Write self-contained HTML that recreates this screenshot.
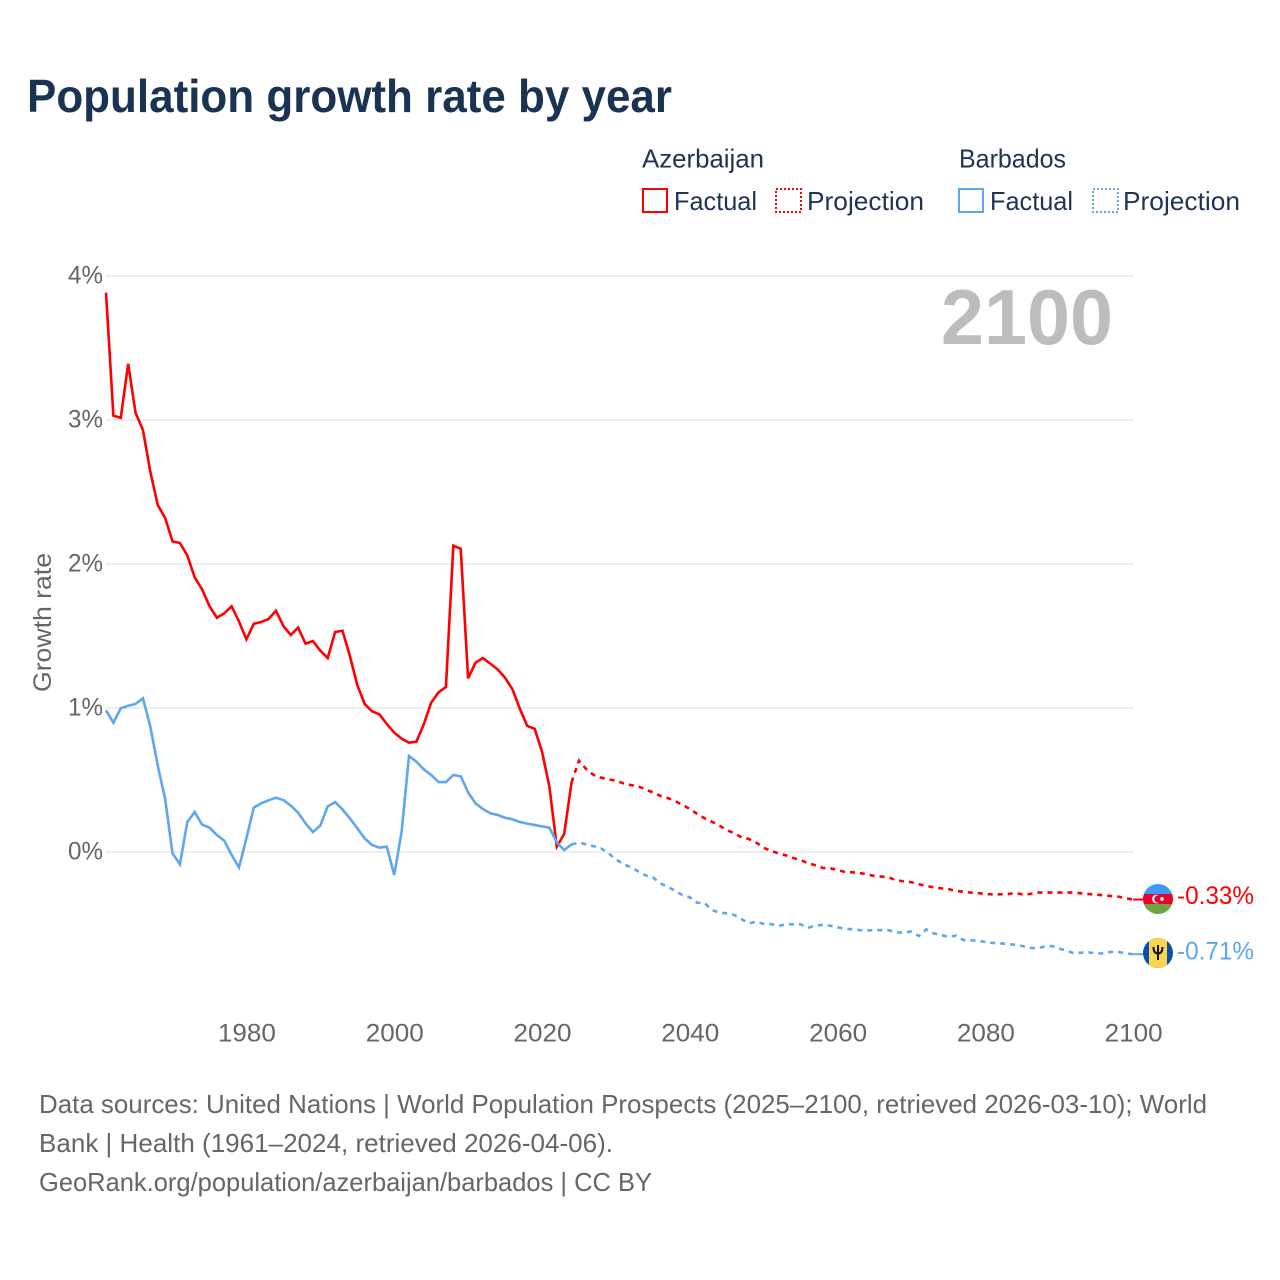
<!DOCTYPE html>
<html lang="en">
<head>
<meta charset="utf-8">
<title>Population growth rate by year</title>
<style>
html,body{margin:0;padding:0;background:#fff;}
svg{display:block;}
text{font-family:"Liberation Sans",sans-serif;}
</style>
</head>
<body>
<svg id="chart" xmlns="http://www.w3.org/2000/svg" width="1280" height="1280" viewBox="0 0 1280 1280">
  <defs>
    <clipPath id="clip-az"><circle cx="1158" cy="899" r="15"/></clipPath>
    <clipPath id="clip-bb"><circle cx="1158" cy="953" r="15"/></clipPath>
  </defs>
  <rect x="0" y="0" width="1280" height="1280" fill="#fff"/>

  <text x="27" y="112" font-size="46" font-weight="700" fill="#1a3352" textLength="645" lengthAdjust="spacingAndGlyphs">Population growth rate by year</text>

  <g>
    <text x="642" y="167.5" font-size="26" fill="#1f3355" textLength="122" lengthAdjust="spacingAndGlyphs">Azerbaijan</text>
    <rect x="643" y="189" width="24" height="23" fill="none" stroke="#ff0000" stroke-width="2"/>
    <text x="674" y="210" font-size="26" fill="#1f3355" textLength="83" lengthAdjust="spacingAndGlyphs">Factual</text>
    <rect x="776" y="189" width="25" height="23" fill="none" stroke="#ff0000" stroke-width="2" stroke-dasharray="2 2"/>
    <text x="807" y="210" font-size="26" fill="#1f3355" textLength="117" lengthAdjust="spacingAndGlyphs">Projection</text>
    <text x="959" y="167.5" font-size="26" fill="#1f3355" textLength="107" lengthAdjust="spacingAndGlyphs">Barbados</text>
    <rect x="959" y="189" width="24" height="23" fill="none" stroke="#5ea6f0" stroke-width="2"/>
    <text x="990" y="210" font-size="26" fill="#1f3355" textLength="83" lengthAdjust="spacingAndGlyphs">Factual</text>
    <rect x="1093" y="189" width="25" height="23" fill="none" stroke="#5ea6f0" stroke-width="2" stroke-dasharray="2 2"/>
    <text x="1123" y="210" font-size="26" fill="#1f3355" textLength="117" lengthAdjust="spacingAndGlyphs">Projection</text>
  </g>

  <g id="grid"></g>
  <g id="y-labels"></g>
  <g id="x-labels"></g>

  <text transform="translate(51,692) rotate(-90)" font-size="25" fill="#666666" textLength="139" lengthAdjust="spacingAndGlyphs">Growth rate</text>

  <text x="941" y="344" font-size="78" font-weight="700" fill="#bdbdbd" textLength="172" lengthAdjust="spacingAndGlyphs">2100</text>

  <g id="series"></g>

  <g clip-path="url(#clip-az)">
    <rect x="1143" y="884" width="30" height="10.5" fill="#3d9bf5"/>
    <rect x="1143" y="894" width="30" height="10" fill="#e4062d"/>
    <rect x="1143" y="904" width="30" height="10" fill="#6fa33f"/>
    <circle cx="1156.5" cy="899" r="4.4" fill="#fff"/>
    <circle cx="1158" cy="899" r="3.7" fill="#e4062d"/>
    <circle cx="1162" cy="899" r="1.9" fill="#fff"/>
  </g>
  <g clip-path="url(#clip-bb)">
    <rect x="1143" y="938" width="30" height="30" fill="#0a4fb0"/>
    <rect x="1149" y="938" width="18" height="30" fill="#fcd44f"/>
    <path d="M1158 945 v15 M1153.5 947 q0 6.5 4.5 6.5 q4.5 0 4.5 -6.5" fill="none" stroke="#111" stroke-width="2"/>
  </g>

  <text id="end-label-az" x="1177" y="904" font-size="25" fill="#ff0000" textLength="77" lengthAdjust="spacingAndGlyphs">-0.33%</text>
  <text id="end-label-bb" x="1177" y="959.5" font-size="25" fill="#5ea6f0" textLength="77" lengthAdjust="spacingAndGlyphs">-0.71%</text>

  <g>
    <text x="39" y="1113" font-size="26" fill="#666666" textLength="1168" lengthAdjust="spacingAndGlyphs">Data sources: United Nations | World Population Prospects (2025–2100, retrieved 2026-03-10); World</text>
    <text x="39" y="1152" font-size="26" fill="#666666" textLength="574" lengthAdjust="spacingAndGlyphs">Bank | Health (1961–2024, retrieved 2026-04-06).</text>
    <text x="39" y="1191" font-size="26" fill="#666666" textLength="613" lengthAdjust="spacingAndGlyphs">GeoRank.org/population/azerbaijan/barbados | CC BY</text>
  </g>
</svg>
<script>
const yTicks = [0, 1, 2, 3, 4];
const xTicks = [1980, 2000, 2020, 2040, 2060, 2080, 2100];
const factualStartYear = 1961;
const projectionStartYear = 2024;

const azerbaijanFactual = [
  3.884, 3.03, 3.015, 3.39, 3.05, 2.93, 2.64, 2.41, 2.32, 2.157,
  2.146, 2.06, 1.907, 1.824, 1.708, 1.627, 1.657, 1.706, 1.60, 1.477,
  1.585, 1.597, 1.618, 1.676, 1.569, 1.507, 1.558, 1.447, 1.465, 1.398,
  1.347, 1.528, 1.537, 1.361, 1.16, 1.028, 0.977, 0.956, 0.889, 0.829,
  0.787, 0.759, 0.766, 0.887, 1.037, 1.109, 1.146, 2.127, 2.106, 1.206,
  1.315, 1.347, 1.308, 1.268, 1.21, 1.13, 0.995, 0.875, 0.856, 0.697,
  0.453, 0.037, 0.125, 0.484
];
const azerbaijanProjection = [
  0.484, 0.634, 0.574, 0.535, 0.516, 0.505, 0.495, 0.477, 0.465, 0.456,
  0.435, 0.414, 0.39, 0.375, 0.354, 0.326, 0.30, 0.264, 0.234, 0.21,
  0.183, 0.153, 0.13, 0.102, 0.09, 0.065, 0.03, 0.007, -0.009, -0.023,
  -0.042, -0.056, -0.078, -0.092, -0.111, -0.113, -0.125, -0.139, -0.141, -0.146,
  -0.155, -0.167, -0.171, -0.178, -0.197, -0.204, -0.21, -0.224, -0.236, -0.245,
  -0.252, -0.257, -0.271, -0.275, -0.282, -0.285, -0.292, -0.294, -0.294, -0.292,
  -0.285, -0.294, -0.292, -0.282, -0.282, -0.282, -0.282, -0.282, -0.282, -0.287,
  -0.292, -0.296, -0.301, -0.306, -0.31, -0.322, -0.33
];
const barbadosFactual = [
  0.984, 0.898, 0.998, 1.016, 1.028, 1.067, 0.87, 0.6, 0.37, -0.009,
  -0.086, 0.208, 0.278, 0.19, 0.169, 0.118, 0.079, -0.021, -0.107, 0.095,
  0.308, 0.338, 0.359, 0.377, 0.361, 0.322, 0.273, 0.199, 0.139, 0.183,
  0.317, 0.347, 0.296, 0.234, 0.165, 0.095, 0.049, 0.03, 0.037, -0.16,
  0.141, 0.667, 0.627, 0.574, 0.535, 0.486, 0.486, 0.535, 0.526, 0.414,
  0.338, 0.299, 0.269, 0.257, 0.238, 0.227, 0.208, 0.197, 0.188, 0.178,
  0.169, 0.067, 0.014, 0.053
];
const barbadosProjection = [
  0.053, 0.065, 0.053, 0.04, 0.025, -0.009, -0.051, -0.083, -0.106, -0.134,
  -0.162, -0.176, -0.218, -0.241, -0.269, -0.299, -0.315, -0.352, -0.354, -0.403,
  -0.421, -0.426, -0.437, -0.467, -0.495, -0.484, -0.5, -0.5, -0.514, -0.502,
  -0.502, -0.502, -0.526, -0.512, -0.505, -0.512, -0.523, -0.533, -0.537, -0.542,
  -0.544, -0.544, -0.542, -0.544, -0.56, -0.558, -0.553, -0.583, -0.537, -0.565,
  -0.576, -0.59, -0.581, -0.611, -0.613, -0.616, -0.625, -0.632, -0.634, -0.639,
  -0.644, -0.653, -0.665, -0.669, -0.657, -0.653, -0.671, -0.685, -0.704, -0.699,
  -0.697, -0.704, -0.704, -0.694, -0.694, -0.704, -0.71
];

const SVG_NS = 'http://www.w3.org/2000/svg';
const plotLeft = 106;
const plotRight = 1133.2;
const yearMin = 1961;
const yearMax = 2100;
const leaderEndX = 1143;

function xScale(year) {
  return plotLeft + (year - yearMin) * (plotRight - plotLeft) / (yearMax - yearMin);
}
function yScale(value) {
  return 852 - value * 144;
}
function linePath(values, startYear) {
  let d = '';
  values.forEach(function (v, i) {
    d += (i === 0 ? 'M' : 'L') + xScale(startYear + i).toFixed(2) + ' ' + yScale(v).toFixed(2);
  });
  return d;
}

const gridGroup = document.getElementById('grid');
const yLabelGroup = document.getElementById('y-labels');
yTicks.forEach(function (t) {
  const gl = document.createElementNS(SVG_NS, 'line');
  
  
  gl.setAttribute('x1', plotLeft);
  gl.setAttribute('x2', plotRight);
  gl.setAttribute('y1', yScale(t));
  gl.setAttribute('y2', yScale(t));
  gl.setAttribute('stroke', '#eeeeee');
  gl.setAttribute('stroke-width', '2');
  gridGroup.appendChild(gl);

  const lb = document.createElementNS(SVG_NS, 'text');
  
  
  lb.setAttribute('x', 68);
  lb.setAttribute('y', yScale(t) + 7.5);
  lb.setAttribute('font-size', '25');
  lb.setAttribute('fill', '#666666');
  lb.setAttribute('textLength', '35');
  lb.setAttribute('lengthAdjust', 'spacingAndGlyphs');
  lb.textContent = t + '%';
  yLabelGroup.appendChild(lb);
});

const xLabelGroup = document.getElementById('x-labels');
xTicks.forEach(function (t) {
  const lb = document.createElementNS(SVG_NS, 'text');
  
  
  lb.setAttribute('x', xScale(t) - 28.5);
  lb.setAttribute('y', 1041.5);
  lb.setAttribute('font-size', '25');
  lb.setAttribute('fill', '#666666');
  lb.setAttribute('textLength', '58');
  lb.setAttribute('lengthAdjust', 'spacingAndGlyphs');
  lb.textContent = t;
  xLabelGroup.appendChild(lb);
});

const seriesGroup = document.getElementById('series');

const azFactualLine = document.createElementNS(SVG_NS, 'path');


azFactualLine.setAttribute('d', linePath(azerbaijanFactual, factualStartYear));
azFactualLine.setAttribute('fill', 'none');
azFactualLine.setAttribute('stroke', '#ff0000');
azFactualLine.setAttribute('stroke-width', '2.6');
seriesGroup.appendChild(azFactualLine);

const azProjectionLine = document.createElementNS(SVG_NS, 'path');


azProjectionLine.setAttribute('d', linePath(azerbaijanProjection, projectionStartYear));
azProjectionLine.setAttribute('fill', 'none');
azProjectionLine.setAttribute('stroke', '#ff0000');
azProjectionLine.setAttribute('stroke-width', '2.6');
azProjectionLine.setAttribute('stroke-dasharray', '5 5');
seriesGroup.appendChild(azProjectionLine);

const bbFactualLine = document.createElementNS(SVG_NS, 'path');


bbFactualLine.setAttribute('d', linePath(barbadosFactual, factualStartYear));
bbFactualLine.setAttribute('fill', 'none');
bbFactualLine.setAttribute('stroke', '#5ea6f0');
bbFactualLine.setAttribute('stroke-width', '2.6');
seriesGroup.appendChild(bbFactualLine);

const bbProjectionLine = document.createElementNS(SVG_NS, 'path');


bbProjectionLine.setAttribute('d', linePath(barbadosProjection, projectionStartYear));
bbProjectionLine.setAttribute('fill', 'none');
bbProjectionLine.setAttribute('stroke', '#5ea6f0');
bbProjectionLine.setAttribute('stroke-width', '2.6');
bbProjectionLine.setAttribute('stroke-dasharray', '5 5');
seriesGroup.appendChild(bbProjectionLine);

const azLeader = document.createElementNS(SVG_NS, 'line');


azLeader.setAttribute('x1', xScale(yearMax));
azLeader.setAttribute('x2', leaderEndX);
azLeader.setAttribute('y1', yScale(azerbaijanProjection[azerbaijanProjection.length - 1]));
azLeader.setAttribute('y2', yScale(azerbaijanProjection[azerbaijanProjection.length - 1]));
azLeader.setAttribute('stroke', '#ff0000');
azLeader.setAttribute('stroke-width', '2');
seriesGroup.appendChild(azLeader);

const bbLeader = document.createElementNS(SVG_NS, 'line');


bbLeader.setAttribute('x1', xScale(yearMax));
bbLeader.setAttribute('x2', leaderEndX);
bbLeader.setAttribute('y1', yScale(barbadosProjection[barbadosProjection.length - 1]));
bbLeader.setAttribute('y2', yScale(barbadosProjection[barbadosProjection.length - 1]));
bbLeader.setAttribute('stroke', '#5ea6f0');
bbLeader.setAttribute('stroke-width', '2');
seriesGroup.appendChild(bbLeader);
</script>
</body>
</html>
